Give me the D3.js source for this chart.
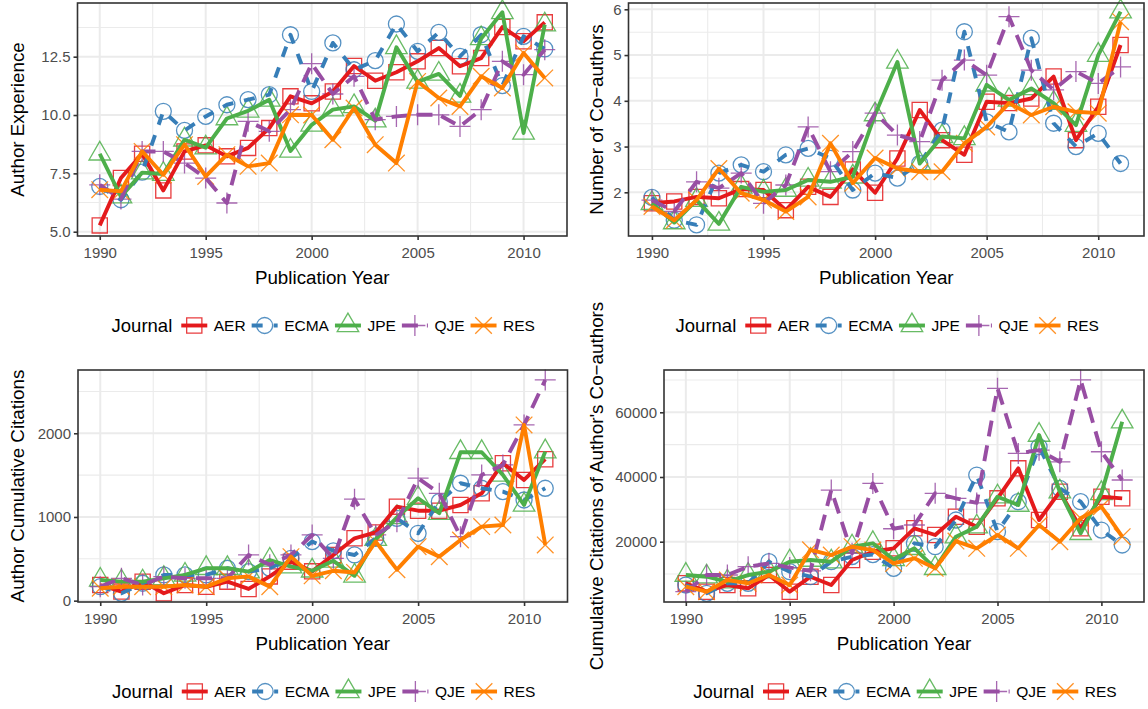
<!DOCTYPE html>
<html><head><meta charset="utf-8">
<script src="https://cdn.jsdelivr.net/npm/d3@7"></script>
<style>body{margin:0;background:#fff}svg{display:block;font-family:"Liberation Sans",Arial,Helvetica,sans-serif}</style>
</head><body><svg id="c" width="1148" height="709"></svg>
<script>
// ---------- data ----------
const years = [1990,1991,1992,1993,1994,1995,1996,1997,1998,1999,2000,2001,2002,2003,2004,2005,2006,2007,2008,2009,2010,2011];
const journals = ["AER","ECMA","JPE","QJE","RES"];
const xTickValues = [1990,1995,2000,2005,2010];

// Panel 1: Author Experience
const expAER  = [5.27,7.3,8.34,6.77,8.44,8.7,8.23,8.59,9.44,10.8,10.5,11.01,12.1,11.47,11.83,12.3,12.87,12.09,12.44,13.77,13.16,13.97];
const expECMA = [6.94,6.37,7.55,10.16,9.34,9.94,10.44,10.66,10.87,13.44,11.01,13.09,11.94,12.33,13.9,12.73,13.54,12.51,13.44,11.26,13.37,12.83];
const expJPE  = [8.34,6.5,7.53,7.47,8.94,8.6,9.85,10.18,10.65,8.46,9.58,10.23,10.37,9.76,12.9,11.42,11.76,10.82,13.28,14.4,9.23,13.87];
const expQJE  = [7.01,6.4,8.44,8.44,7.94,7.3,6.23,9.73,9.3,10.23,12.2,10.9,11.66,9.8,9.94,10.01,10.01,9.51,10.23,12.3,11.73,12.8];
const expRES  = [6.8,6.73,8.44,7.44,8.73,7.37,8.3,7.8,7.94,10.01,10.0,8.94,10.3,8.73,7.94,11.44,10.73,10.37,11.66,11.16,12.66,11.59];

// Panel 2: Number of Co-authors
const coAER  = [1.76,1.8,1.9,1.87,2.07,2.05,1.61,2.12,1.9,2.5,1.99,2.74,3.8,3.14,2.82,3.98,3.95,4.05,4.53,3.14,3.87,5.22];
const coECMA = [1.89,1.39,1.29,2.42,2.6,2.45,2.82,2.96,2.74,2.05,2.42,2.31,2.63,3.36,5.51,3.54,3.32,5.37,3.51,3.0,3.29,2.63];
const coJPE  = [1.76,1.34,1.83,1.31,2.12,2.01,2.05,2.27,2.23,2.34,3.7,4.85,2.63,3.22,3.18,4.35,4.02,4.27,3.95,3.47,5.0,5.95];
const coQJE  = [1.83,1.58,2.23,2.09,2.42,1.76,2.16,3.43,2.45,2.89,3.73,3.25,3.11,4.45,4.89,4.56,5.84,4.67,4.24,4.64,4.38,4.74];
const coRES  = [1.69,1.39,1.83,2.52,1.98,1.83,1.58,1.9,3.07,2.2,2.75,2.52,2.45,2.45,3.07,3.43,3.95,3.69,3.87,3.76,3.73,5.73];

// Panel 3: Author Cumulative Citations
const citAER  = [187,108,227,88,187,166,227,140,290,466,350,546,745,815,1123,1075,1075,1143,1283,1642,1442,1690];
const citECMA = [167,88,208,307,307,307,387,347,387,506,705,596,546,745,984,805,1183,1403,1343,1303,1203,1343];
const citJPE  = [247,227,227,267,307,387,387,347,486,406,357,476,297,735,995,1224,1045,1773,1773,1502,1144,1781];
const citQJE  = [167,267,187,287,267,267,267,546,430,546,785,506,1213,785,944,1463,1283,765,1502,1622,2100,2637];
const citRES  = [148,167,167,167,187,167,267,290,167,526,297,357,337,705,370,645,526,725,885,904,2100,666];

// Panel 4: Cumulative Citations of Author's Co-authors
const ccAER  = [7140,4550,6620,5600,9700,4550,9180,6620,14340,16900,17960,24140,22070,27730,24640,33400,42680,26700,35450,24140,33900,33400];
const ccECMA = [6620,4050,7140,7140,13820,10730,9180,13820,15370,16000,11780,19500,18450,26700,40600,23100,32360,49350,36500,32360,23600,18980];
const ccJPE  = [9700,9180,7640,9700,10730,13820,14340,13820,18450,19500,14500,17960,11780,21550,24640,33900,31340,52970,35450,22600,34950,57080];
const ccQJE  = [4550,9700,9700,12280,13300,12000,11000,35970,16400,38000,24000,25160,34950,33400,32000,67400,47300,48300,44700,70000,47800,39070];
const ccRES  = [6100,4550,8160,7140,9700,6620,17500,15870,18450,17400,13300,14870,11780,20200,17960,22070,17960,25160,20000,27230,30800,21550];

const yTicks1 = [5,7.5,10,12.5], yTicks2 = [2,3,4,5,6], yTicks3 = [0,1000,2000], yTicks4 = [20000,40000,60000];

// ---------- styling ----------
const colors = ["#E41A1C","#377EB8","#4DAF4A","#984EA3","#FF7F00"];
const shapes = ["square","circle","triangle","plus","cross"];
const dashes = [null,"11,11",null,"16,9",null];
const R = 8;
function symbolPath(s){
  switch(s){
    case "square": {const h=7.6; return `M${-h},${-h}H${h}V${h}H${-h}Z`;}
    case "circle": return `M${R},0A${R},${R} 0 1,1 ${-R},0A${R},${R} 0 1,1 ${R},0Z`;
    case "triangle": return `M0,${-1.555*R}L${1.347*R},${0.778*R}L${-1.347*R},${0.778*R}Z`;
    case "plus": {const h=10.5; return `M${-h},0H${h}M0,${-h}V${h}`;}
    case "cross": {const h=8.3; return `M${-h},${-h}L${h},${h}M${-h},${h}L${h},${-h}`;}
  }
}

const svg = d3.select("#c");
svg.append("rect").attr("width",1148).attr("height",709).attr("fill","#fff");

const panels = [
  {l:77.5,r:567,t:3,b:236,yDom:[4.816,14.80],yTicks:yTicks1,yMinor:[6.25,8.75,11.25,13.75],fmt:d3.format(".1f"),title:"Author Experience",tx:23.5,ty:119.5,series:[expAER,expECMA,expJPE,expQJE,expRES]},
  {l:628.5,r:1144,t:3,b:236,yDom:[1.045,6.138],yTicks:yTicks2,yMinor:[1.5,2.5,3.5,4.5,5.5],fmt:d3.format("d"),title:"Number of Co\u2212authors",tx:603,ty:119.5,series:[coAER,coECMA,coJPE,coQJE,coRES]},
  {l:78,r:567.5,t:370,b:602,yDom:[-16,2756],yTicks:yTicks3,yMinor:[500,1500,2500],fmt:d3.format("d"),title:"Author Cumulative Citations",tx:23.5,ty:486,series:[citAER,citECMA,citJPE,citQJE,citRES]},
  {l:664,r:1144,t:370,b:602,yDom:[1360,73075],yTicks:yTicks4,yMinor:[10000,30000,50000,70000],fmt:d3.format("d"),title:"Cumulative Citations of Author's Co\u2212authors",tx:603,ty:486,series:[ccAER,ccECMA,ccJPE,ccQJE,ccRES]}
];

panels.forEach(p=>{
  const g = svg.append("g");
  const x = d3.scaleLinear().domain([1988.95,2012.05]).range([p.l,p.r]);
  const y = d3.scaleLinear().domain(p.yDom).range([p.b,p.t]);
  const grid = g.append("g");
  [1992.5,1997.5,2002.5,2007.5].forEach(v=>grid.append("line").attr("x1",x(v)).attr("x2",x(v)).attr("y1",p.t).attr("y2",p.b).attr("stroke","#EBEBEB").attr("stroke-width",1.1));
  p.yMinor.forEach(v=>grid.append("line").attr("x1",p.l).attr("x2",p.r).attr("y1",y(v)).attr("y2",y(v)).attr("stroke","#EBEBEB").attr("stroke-width",1.1));
  xTickValues.forEach(v=>grid.append("line").attr("x1",x(v)).attr("x2",x(v)).attr("y1",p.t).attr("y2",p.b).attr("stroke","#EBEBEB").attr("stroke-width",2));
  p.yTicks.forEach(v=>grid.append("line").attr("x1",p.l).attr("x2",p.r).attr("y1",y(v)).attr("y2",y(v)).attr("stroke","#EBEBEB").attr("stroke-width",2));

  // points
  p.series.forEach((vals,i)=>{
    g.append("g").selectAll("path").data(vals).join("path")
      .attr("d",symbolPath(shapes[i]))
      .attr("transform",(d,k)=>`translate(${x(years[k])},${y(d)})`)
      .attr("fill","none").attr("stroke",colors[i]).attr("stroke-width",1.3).attr("stroke-opacity",0.85);
  });
  // lines
  const line = d3.line().x((d,k)=>x(years[k])).y(d=>y(d));
  p.series.forEach((vals,i)=>{
    const path = g.append("path").datum(vals).attr("d",line)
      .attr("fill","none").attr("stroke",colors[i]).attr("stroke-width",3.9)
      .attr("stroke-linejoin","round").attr("stroke-linecap","butt");
    if(dashes[i]) path.attr("stroke-dasharray",dashes[i]);
  });
  g.append("rect").attr("x",p.l).attr("y",p.t).attr("width",p.r-p.l).attr("height",p.b-p.t)
    .attr("fill","none").attr("stroke","#333333").attr("stroke-width",1.6);

  // axes
  const ax = g.append("g").attr("transform",`translate(0,${p.b})`)
    .call(d3.axisBottom(x).tickValues(xTickValues).tickFormat(d3.format("d")).tickSize(4).tickSizeOuter(0).tickPadding(7));
  const ay = g.append("g").attr("transform",`translate(${p.l},0)`)
    .call(d3.axisLeft(y).tickValues(p.yTicks).tickFormat(p.fmt).tickSize(4).tickSizeOuter(0).tickPadding(3));
  [ax,ay].forEach(a=>{
    a.select(".domain").remove();
    a.attr("font-family",null).attr("font-size",null);
    a.selectAll(".tick line").attr("stroke","#333333").attr("stroke-width",1.6);
    a.selectAll(".tick text").attr("fill","#4D4D4D").style("font-size","15px");
  });

  // axis titles
  g.append("text").attr("x",(p.l+p.r)/2).attr("y",p.b+48).attr("text-anchor","middle")
    .style("font-size","18.8px").attr("fill","#000").text("Publication Year");
  g.append("text").attr("transform",`translate(${p.tx},${p.ty}) rotate(-90)`).attr("text-anchor","middle")
    .style("font-size","18.8px").attr("fill","#000").text(p.title);

  // legend
  const lg = g.append("g");
  const cy = p.b + 89.5;
  const title = lg.append("text").attr("y",cy+6.6).style("font-size","18.5px").attr("fill","#000").text("Journal");
  let cur = title.node().getComputedTextLength() + 9;
  const keyW = 26;
  journals.forEach((j,i)=>{
    const kg = lg.append("g").attr("transform",`translate(${cur},0)`);
    kg.append("path").attr("d",symbolPath(shapes[i])).attr("transform",`translate(${keyW/2},${cy})`)
      .attr("fill","none").attr("stroke",colors[i]).attr("stroke-width",1.3).attr("stroke-opacity",0.85);
    const kl = kg.append("line").attr("x1",0).attr("x2",keyW).attr("y1",cy).attr("y2",cy)
      .attr("stroke",colors[i]).attr("stroke-width",3.9);
    if(dashes[i]) kl.attr("stroke-dasharray",dashes[i]);
    const t = kg.append("text").attr("x",keyW+6.5).attr("y",cy+5.5).style("font-size","15.5px").attr("fill","#000").text(j);
    cur += keyW + 6.5 + t.node().getComputedTextLength() + 6;
  });
  const total = cur - 6;
  lg.attr("transform",`translate(${(p.l+p.r)/2 - total/2 + 1},0)`);
});
</script></body></html>
